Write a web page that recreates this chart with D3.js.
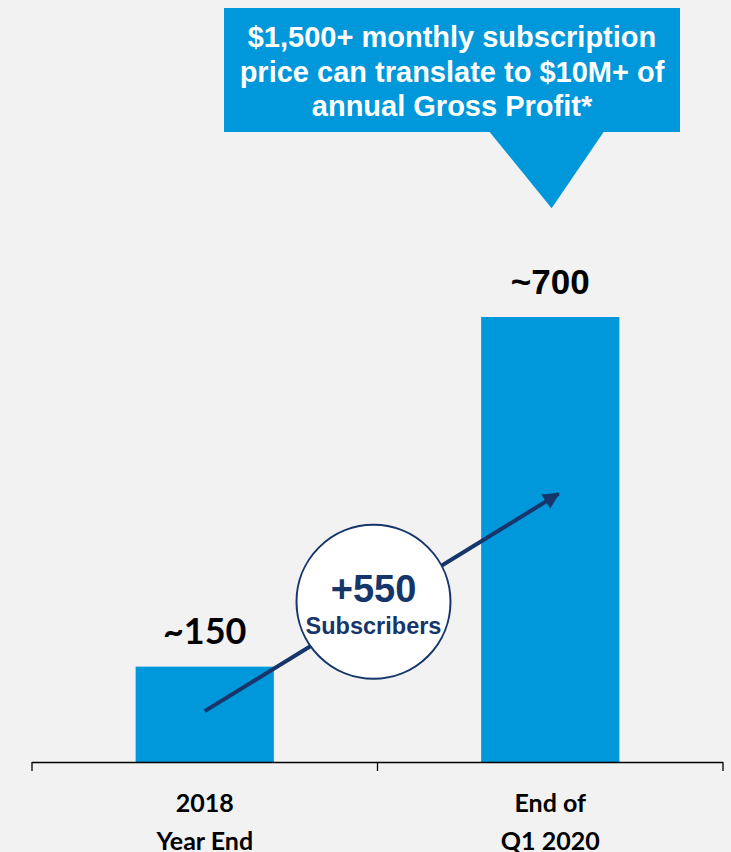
<!DOCTYPE html>
<html>
<head>
<meta charset="utf-8">
<title>Subscribers</title>
<style>
  body { margin: 0; background: #f2f2f2; }
  svg { display: block; }
</style>
</head>
<body>
<svg width="731" height="852"></svg>
<script src="https://d3js.org/d3.v7.min.js"></script>
<script>
const categories = ["2018\nYear End", "End of\nQ1 2020"];
const values = [150, 700];
const valueLabels = ["~150", "~700"];
const growthLabel = ["+550", "Subscribers"];
const calloutLines = ["$1,500+ monthly subscription", "price can translate to $10M+ of", "annual Gross Profit*"];

const blue = "#0098da";
const navy = "#16366b";
const width = 731, height = 852;
const margin = { left: 32, right: 8, bottom: 90, top: 317 };
const baseY = height - margin.bottom;

const svg = d3.select("svg");

const x = d3.scaleBand()
    .domain(categories)
    .range([margin.left, width - margin.right])
    .paddingInner(0.6)
    .paddingOuter(0.3);

const y = d3.scaleLinear()
    .domain([0, 700])
    .range([baseY, margin.top]);

// bars
svg.append("g")
  .selectAll("rect")
  .data(categories)
  .join("rect")
    .attr("x", d => x(d))
    .attr("y", (d, i) => y(values[i]))
    .attr("width", x.bandwidth())
    .attr("height", (d, i) => y(0) - y(values[i]))
    .attr("fill", blue);

// axis line with ticks at band boundaries
const step = x.step();
const bounds = [x.range()[0]].concat(categories.map(d => x(d) + x.bandwidth() + (step - x.bandwidth()) / 2));
bounds[bounds.length - 1] = x.range()[1];
svg.append("line")
    .attr("x1", x.range()[0]).attr("x2", x.range()[1])
    .attr("y1", y(0) + 0.5).attr("y2", y(0) + 0.5)
    .attr("stroke", "#000").attr("stroke-width", 1.3);
svg.append("g").selectAll("line")
  .data(bounds)
  .join("line")
    .attr("x1", d => d).attr("x2", d => d)
    .attr("y1", y(0)).attr("y2", y(0) + 9)
    .attr("stroke", "#000").attr("stroke-width", 1.3);

// category labels
const catText = svg.append("g").selectAll("text")
  .data(categories)
  .join("text")
    .attr("x", d => x(d) + x.bandwidth() / 2)
    .attr("y", y(0) + 50)
    .attr("text-anchor", "middle")
    .attr("font-family", "Lato, 'Open Sans', sans-serif")
    .attr("font-weight", "bold")
    .attr("font-size", 25)
    .attr("fill", "#000");
catText.selectAll("tspan")
  .data(d => d.split("\n"))
  .join("tspan")
    .attr("x", function () { return this.parentNode.getAttribute("x"); })
    .attr("dy", (d, i) => i ? 38 : 0)
    .text(d => d);

// value labels
svg.append("g").selectAll("text")
  .data(categories)
  .join("text")
    .attr("x", d => x(d) + x.bandwidth() / 2)
    .attr("y", (d, i) => y(values[i]) - 23)
    .attr("text-anchor", "middle")
    .attr("font-family", (d, i) => i ? "'Liberation Sans', Arial, sans-serif" : "Lato, sans-serif")
    .attr("font-weight", "bold")
    .attr("font-size", (d, i) => i ? 35 : 36)
    .attr("fill", "#000")
    .text((d, i) => valueLabels[i]);

// growth arrow
const c0 = categories[0], c1 = categories[1];
const ax1 = x(c0) + x.bandwidth() * 0.5, ay1 = y(80);
const ax2 = x(c1) + x.bandwidth() * 0.56, ay2 = y(422);
svg.append("defs").append("marker")
    .attr("id", "head")
    .attr("viewBox", "0 0 10 10")
    .attr("refX", 9).attr("refY", 5)
    .attr("markerWidth", 4.2).attr("markerHeight", 4.2)
    .attr("markerUnits", "strokeWidth")
    .attr("orient", "auto")
  .append("path")
    .attr("d", "M0,0L10,5L0,10Z")
    .attr("fill", navy);
svg.append("line")
    .attr("x1", ax1).attr("y1", ay1)
    .attr("x2", ax2).attr("y2", ay2)
    .attr("stroke", navy)
    .attr("stroke-width", 4)
    .attr("marker-end", "url(#head)");

// circle badge
const cx = bounds[1] - 4, cy = y(252);
svg.append("circle")
    .attr("cx", cx).attr("cy", cy).attr("r", 77)
    .attr("fill", "#fff")
    .attr("stroke", navy)
    .attr("stroke-width", 2);
svg.append("text")
    .attr("x", cx).attr("y", cy)
    .attr("text-anchor", "middle")
    .attr("font-family", "'Liberation Sans', Arial, sans-serif")
    .attr("font-weight", "bold")
    .attr("font-size", 38)
    .attr("fill", navy)
    .text(growthLabel[0]);
svg.append("text")
    .attr("x", cx).attr("y", cy + 32)
    .attr("text-anchor", "middle")
    .attr("font-family", "'Liberation Sans', Arial, sans-serif")
    .attr("font-weight", "bold")
    .attr("font-size", 23.5)
    .attr("fill", navy)
    .text(growthLabel[1]);

// callout box pointing at the second bar
const tipX = x(c1) + x.bandwidth() * 0.51;
const tipY = y(871);
const box = { x0: 224, x1: 680, y0: 8, y1: 132 };
svg.append("path")
    .attr("d", `M${box.x0},${box.y0}H${box.x1}V${box.y1}H${tipX + 52}L${tipX},${tipY}L${tipX - 62},${box.y1}H${box.x0}Z`)
    .attr("fill", blue);
svg.append("g").selectAll("text")
  .data(calloutLines)
  .join("text")
    .attr("x", (box.x0 + box.x1) / 2)
    .attr("y", (d, i) => 47 + i * 34.5)
    .attr("text-anchor", "middle")
    .attr("font-family", "'Liberation Sans', Arial, sans-serif")
    .attr("font-weight", "bold")
    .attr("font-size", 29)
    .attr("fill", "#fff")
    .text(d => d);
</script>
</body>
</html>
